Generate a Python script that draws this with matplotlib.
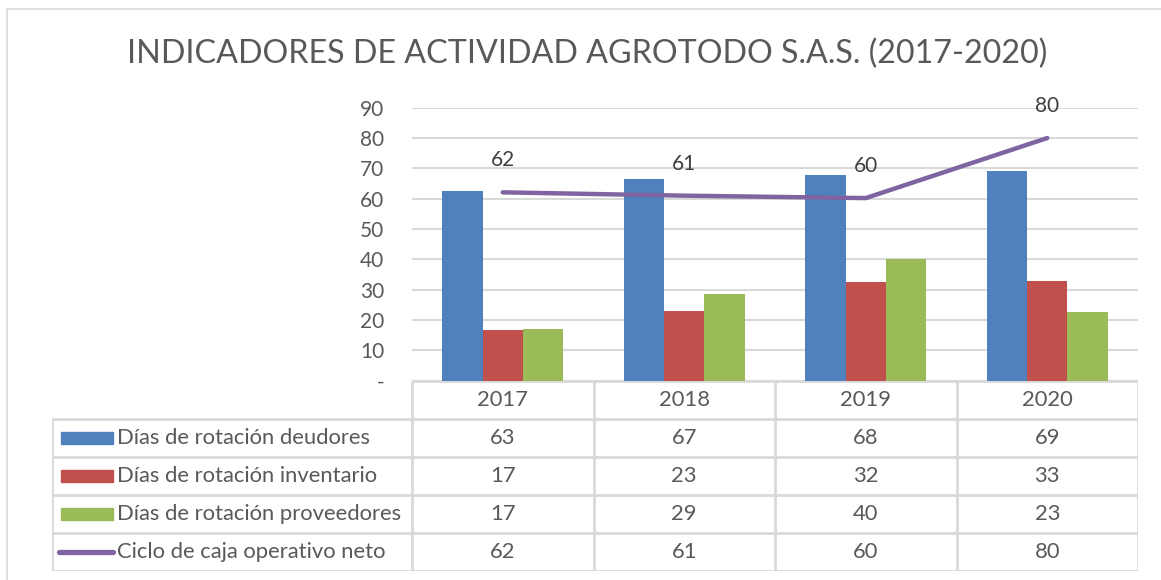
import matplotlib
matplotlib.use('Agg')
import matplotlib.pyplot as plt
from matplotlib.patches import Rectangle
from matplotlib.lines import Line2D

plt.rcParams['font.family'] = ['Lato', 'DejaVu Sans']

# data
years = ['2017', '2018', '2019', '2020']
deudores = [62.6, 66.6, 67.8, 69.1]
inventario = [16.6, 22.9, 32.4, 32.9]
proveedores = [16.9, 28.6, 40.0, 22.6]
ciclo = [62.1, 61.0, 60.2, 80.0]
series_names = ['Días de rotación deudores', 'Días de rotación inventario',
                'Días de rotación proveedores', 'Ciclo de caja operativo neto']

blue, red, green, purple = '#4F81BD', '#C0504D', '#9BBB59', '#8064A2'
grid_c = '#D9D9D9'
txt_c = '#595959'

W, H = 1161, 580
fig = plt.figure(figsize=(W / 100, H / 100), dpi=100)

# outer chart border (only top and left visible)
fig.patches.append(Rectangle((7 / W, -0.1), 1.2, 1 - 9 / H + 0.1, transform=fig.transFigure,
                             fill=False, edgecolor=grid_c, lw=1.2))

fig.text(0.506, 1 - 54 / H, 'INDICADORES DE ACTIVIDAD AGROTODO S.A.S. (2017-2020)',
         ha='center', va='center', fontsize=23.2, color=txt_c)

# main plot
ax = fig.add_axes([412 / W, 1 - 380.7 / H, 726 / W, 273 / H])
x = range(len(years))
bw = 0.223
ax.bar([i - bw for i in x], deudores, bw, color=blue, zorder=3)
ax.bar(list(x), inventario, bw, color=red, zorder=3)
ax.bar([i + bw for i in x], proveedores, bw, color=green, zorder=3)
ax.plot(list(x), ciclo, color=purple, lw=3.2, solid_capstyle='round', solid_joinstyle='round', zorder=4)
for i, v in enumerate(ciclo):
    ax.annotate(f'{v:.0f}', (i, v), xytext=(0, 23), textcoords='offset points',
                ha='center', va='center', fontsize=15, color='#404040')

ax.set_xlim(-0.5, 3.5)
ax.set_ylim(0, 90)
ax.set_yticks(range(0, 91, 10))
ax.set_yticklabels(['-'] + [str(t) for t in range(10, 91, 10)])
ax.yaxis.grid(True, color=grid_c, lw=1.5, zorder=0)
ax.set_xticks([])
ax.tick_params(axis='y', length=0, pad=20, labelsize=15, labelcolor=txt_c)
for s in ax.spines.values():
    s.set_visible(False)

# data table below
lab_span = 360 / 181.5
axt = fig.add_axes([52 / W, 1 - 571 / H, 1086 / W, 190 / H])
axt.set_xlim(-0.5 - lab_span, 3.5)
axt.set_ylim(5, 0)
axt.axis('off')
left = -0.5 - lab_span
lkw = dict(color=grid_c, lw=2, solid_capstyle='butt')
axt.plot([-0.5, 3.5], [0, 0], **lkw)
for r in range(1, 6):
    axt.plot([left, 3.5], [r, r], **lkw)
for c in range(5):
    axt.plot([c - 0.5, c - 0.5], [0, 5], **lkw)
axt.plot([left, left], [1, 5], **lkw)

fs = 15.8
for j, yr in enumerate(years):
    axt.text(j, 0.5, yr, ha='center', va='center', fontsize=fs, color=txt_c)

rows = [deudores, inventario, proveedores, ciclo]
colors = [blue, red, green, purple]
sw_x0 = left + 9 / 181.5
sw_x1 = left + 61 / 181.5
for r, (vals, name, col) in enumerate(zip(rows, series_names, colors)):
    yc = r + 1.5
    if r < 3:
        axt.add_patch(Rectangle((sw_x0, yc - 0.17), sw_x1 - sw_x0, 0.34, color=col))
    else:
        axt.add_line(Line2D([sw_x0 - 0.01, sw_x1], [yc, yc], color=col, lw=3.8,
                            solid_capstyle='round'))
    axt.text(sw_x1 + 0.02, yc, name, ha='left', va='center', fontsize=fs, color=txt_c)
    for j, v in enumerate(vals):
        axt.text(j, yc, f'{v:.0f}', ha='center', va='center', fontsize=fs, color=txt_c)

fig.savefig('out.png', dpi=100)
